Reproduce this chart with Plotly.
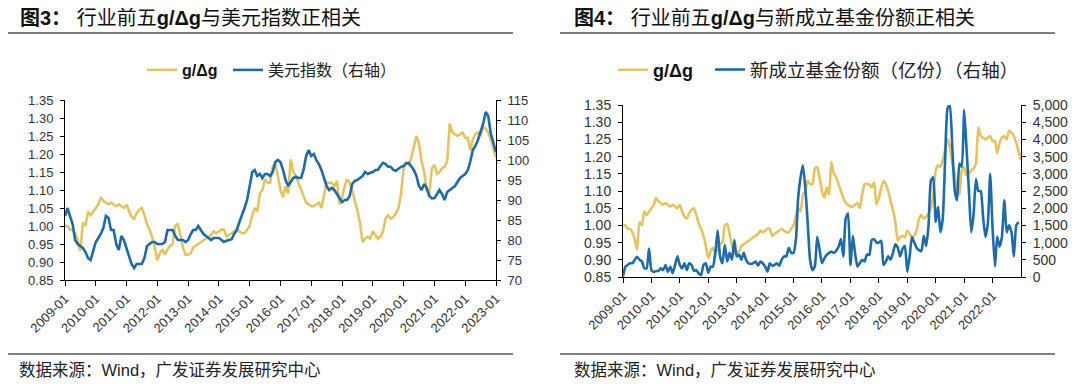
import pandas as pd
import plotly.graph_objects as go

# Page body has an 8px default margin, so the figure is sized to fit the
# 1080x386 window and positions are given in window pixels minus that offset.
OFF = 8
W, H = 1080 - OFF, 386 - OFF

# ---------------- data (monthly) ----------------
# g/Δg of top-5 industries, 2009-01 .. 2023-01
g_dg = [
    1.00, 1.00, 0.99, 0.99, 0.98, 0.96, 0.93, 1.01, 1.00, 1.04, 1.03, 1.04,      # 2009
    1.05, 1.06, 1.08, 1.07, 1.065, 1.06, 1.065, 1.06, 1.055, 1.06, 1.055, 1.05,  # 2010
    1.06, 1.04, 1.025, 1.02, 1.035, 1.045, 1.05, 1.03, 1.005, 0.99, 0.97, 0.94,  # 2011
    0.905, 0.925, 0.935, 0.92, 0.935, 0.945, 0.95, 1.00, 1.005, 0.975, 0.94, 0.92,  # 2012
    0.92, 0.925, 0.94, 0.945, 0.95, 0.955, 0.96, 0.965, 0.97, 0.975, 0.985, 0.98,  # 2013
    0.985, 0.99, 0.99, 0.97, 0.975, 0.98, 0.985, 0.99, 0.985, 0.98, 0.98, 0.99,  # 2014
    1.00, 1.03, 1.05, 1.04, 1.09, 1.10, 1.13, 1.12, 1.12, 1.165, 1.17, 1.14,     # 2015
    1.10, 1.08, 1.11, 1.09, 1.185, 1.15, 1.14, 1.12, 1.10, 1.08, 1.065, 1.06,    # 2016
    1.055, 1.055, 1.06, 1.065, 1.05, 1.09, 1.12, 1.12, 1.12, 1.11, 1.125, 1.06,  # 2017
    1.08, 1.11, 1.13, 1.12, 1.10, 1.07, 1.045, 1.01, 0.955, 0.965, 0.97, 0.965,  # 2018
    0.985, 0.975, 0.965, 0.97, 0.985, 1.02, 1.03, 1.02, 1.025, 1.035, 1.05, 1.09,  # 2019
    1.16, 1.175, 1.17, 1.19, 1.22, 1.25, 1.23, 1.18, 1.15, 1.10, 1.09, 1.16,     # 2020
    1.17, 1.145, 1.15, 1.16, 1.165, 1.18, 1.285, 1.26, 1.255, 1.25, 1.255, 1.26,  # 2021
    1.245, 1.245, 1.21, 1.24, 1.255, 1.26, 1.25, 1.275, 1.27, 1.26, 1.24, 1.215,  # 2022
    1.19,                                                                         # 2023
]

# US dollar index, 2009-01 .. 2023-01
dxy = [
    86, 88, 86, 84, 80, 79, 78.5, 78, 77, 75.5, 75, 77.5,               # 2009
    79.5, 80.5, 81.5, 83, 86, 85.5, 82.5, 82.5, 79, 77.5, 81, 80,       # 2010
    78, 76, 74, 73, 74, 74, 74, 75.5, 78.5, 79, 79.5, 79.5,             # 2011
    79, 79, 79, 79.5, 82.5, 82.5, 82.5, 81, 80, 80, 80, 79.5,           # 2012
    80, 81.5, 82.5, 82.5, 83.5, 82.5, 81.5, 81, 80.5, 80, 80.5, 80.5,   # 2013
    80.5, 80, 79.5, 79.8, 80, 80.2, 81.5, 82.5, 84.5, 86, 88, 90,       # 2014
    94, 97, 97.5, 96, 96.5, 95.5, 96.5, 96.5, 96, 97, 99.5, 100,        # 2015
    99.5, 97.5, 95, 93.5, 94.5, 95.5, 95.8, 95.5, 95.5, 97.5, 101, 102.5,  # 2016
    101, 101.5, 100, 99, 97.5, 95.5, 93.5, 92.5, 93, 92.5, 91.5, 90.5,  # 2017
    89.5, 90, 90, 91, 94, 94.8, 95, 95.5, 96, 97, 96.5, 96.8,           # 2018
    97, 97.5, 97.5, 98.5, 99.3, 99, 98.3, 98.3, 97.5, 97.3, 97.9, 98.3,  # 2019
    98.5, 99.2, 99.3, 98.5, 97.5, 96, 93.5, 92.5, 94, 93, 91, 90.4,     # 2020
    90.5, 91.5, 92.5, 91.5, 90, 92, 92.5, 93, 93.5, 94.5, 95.5, 96,     # 2021
    96.5, 97.5, 99.5, 102.5, 103.5, 105, 107, 109, 112, 111, 106.5, 104.2,  # 2022
    102,                                                                # 2023
]

# New fund shares (100 million units), 2009-01 .. 2022-12
new_fund = [
    20, 300, 350, 400, 400, 500, 590, 500, 450, 260, 250, 830,            # 2009
    200, 150, 170, 180, 250, 200, 350, 150, 300, 110, 350, 600,           # 2010
    350, 250, 400, 200, 400, 350, 180, 200, 100, 60, 350, 400,            # 2011
    120, 300, 300, 700, 1350, 600, 400, 930, 450, 700, 500, 1075,         # 2012
    600, 650, 500, 700, 500, 400, 380, 400, 450, 330, 450, 400,           # 2013
    300, 160, 400, 330, 350, 400, 330, 500, 600, 600, 850, 700,           # 2014
    700, 1100, 2300, 2900, 3250, 2600, 1600, 500, 200, 300, 1170, 800,    # 2015
    400, 540, 640, 700, 740, 700, 760, 880, 1100, 600, 1700, 1850,        # 2016
    350, 1200, 700, 300, 400, 500, 450, 650, 650, 1075, 1100, 1000,       # 2017
    1000, 1050, 350, 450, 600, 500, 700, 950, 850, 600, 820, 900,         # 2018
    150, 600, 1165, 1000, 850, 780, 750, 1200, 900, 1500, 2800, 2900,     # 2019
    1600, 2040, 1300, 1700, 3400, 4900, 5000, 3800, 2520, 2230, 3300, 3200,  # 2020
    4850, 3700, 2600, 1300, 1800, 2850, 2500, 2500, 1750, 1165, 1550, 3000,  # 2021
    1400, 300, 1165, 880, 1165, 2230, 1300, 1500, 1300, 600, 1500, 1600,  # 2022
]

tick_left = ["2009-01", "2010-01", "2011-01", "2012-01", "2013-01", "2014-01",
             "2015-01", "2016-01", "2017-01", "2018-01", "2019-01", "2020-01",
             "2021-01", "2022-01", "2023-01"]
tick_right = tick_left[:-1]

title_left = "<b>图3：</b>\u00a0行业前五<b>g/Δg</b>与美元指数正相关"
title_right = "<b>图4：</b>\u00a0行业前五<b>g/Δg</b>与新成立基金份额正相关"
name_g = "<b>g/Δg</b>"
name_dxy = "美元指数（右轴）"
name_fund = "新成立基金份额（亿份）（右轴）"
source = "数据来源：Wind，广发证券发展研究中心"

months_g = pd.date_range("2009-01-01", periods=len(g_dg), freq="MS")
months_dxy = pd.date_range("2009-01-01", periods=len(dxy), freq="MS")
months_fund = pd.date_range("2009-01-01", periods=len(new_fund), freq="MS")

# ---------------- style ----------------
GOLD = "#E6C35C"
BLUE = "#1C6BAE"
LAT = "Liberation Sans, Arial, sans-serif"
CJK = "Liberation Sans, Noto Sans CJK SC, sans-serif"


def px(x):
    return (x - OFF) / W


def py(y):
    return 1 - (y - OFF) / H


fig = go.Figure()
fig.add_trace(go.Scatter(x=months_g, y=g_dg, xaxis="x", yaxis="y", mode="lines",
                         line=dict(color=GOLD, width=2.6), name=name_g, legend="legend"))
fig.add_trace(go.Scatter(x=months_dxy, y=dxy, xaxis="x", yaxis="y2", mode="lines",
                         line=dict(color=BLUE, width=2.6), name=name_dxy, legend="legend2"))
fig.add_trace(go.Scatter(x=months_g, y=g_dg, xaxis="x2", yaxis="y3", mode="lines",
                         line=dict(color=GOLD, width=2.6, shape="spline", smoothing=0.5),
                         name=name_g, legend="legend3"))
fig.add_trace(go.Scatter(x=months_fund, y=new_fund, xaxis="x2", yaxis="y4", mode="lines",
                         line=dict(color=BLUE, width=2.6, shape="spline", smoothing=0.5),
                         name=name_fund, legend="legend4"))

axis_common = dict(showline=True, linecolor="#000", linewidth=1, ticks="outside",
                   tickcolor="#000", tickwidth=1, showgrid=False, zeroline=False,
                   automargin=False)


def xax(domain, anchor, ticks, size):
    return dict(axis_common, domain=domain, anchor=anchor, type="date",
                range=["2009-01-01", "2023-01-01"], ticklen=5,
                tickvals=[t + "-01" for t in ticks], ticktext=ticks, tickangle=-45,
                tickfont=dict(family=LAT, size=size, color="#333"))


def yax(domain, anchor, rng, dtick, fmt, size, side="left", overlay=None):
    d = dict(axis_common, anchor=anchor, range=rng, dtick=dtick, tickformat=fmt,
             ticklen=4, side=side, ticklabelstandoff=4,
             tickfont=dict(family=LAT, size=size, color="#333"))
    if overlay:
        d["overlaying"] = overlay
    else:
        d["domain"] = domain
    return d


legend_common = dict(orientation="h", yanchor="middle", xanchor="left",
                     bgcolor="rgba(0,0,0,0)", borderwidth=0)

fig.update_layout(
    width=W, height=H, autosize=False,
    margin=dict(l=0, r=0, t=0, b=0, pad=0, autoexpand=False),
    paper_bgcolor="white", plot_bgcolor="white",
    xaxis=xax([px(65), px(496)], "y", tick_left, 13),
    yaxis=yax([py(280), py(100)], "x", [0.85, 1.35], 0.05, ".2f", 13),
    yaxis2=yax(None, "x", [70, 115], 5, "d", 13, side="right", overlay="y"),
    xaxis2=xax([px(623), px(1021)], "y3", tick_right, 13),
    yaxis3=yax([py(277), py(105)], "x2", [0.85, 1.35], 0.05, ".2f", 14),
    yaxis4=yax(None, "x2", [0, 5000], 500, ",d", 14, side="right", overlay="y3"),
    legend=dict(legend_common, x=px(142), y=py(70),
                font=dict(family=LAT, size=16, color="#111")),
    legend2=dict(legend_common, x=px(228), y=py(70),
                 font=dict(family=CJK, size=16, color="#222")),
    legend3=dict(legend_common, x=px(613), y=py(70),
                 font=dict(family=LAT, size=18, color="#111")),
    legend4=dict(legend_common, x=px(710), y=py(70),
                 font=dict(family=CJK, size=18.5, color="#222")),
    showlegend=True,
)

annotations = []
for x0, txt in [(18, title_left), (572, title_right)]:
    annotations.append(dict(x=px(x0), y=py(18), xref="paper", yref="paper",
                            xanchor="left", yanchor="middle", showarrow=False,
                            text=txt, font=dict(family=CJK, size=20, color="#111")))
for x0 in (17, 572):
    annotations.append(dict(x=px(x0), y=py(370), xref="paper", yref="paper",
                            xanchor="left", yanchor="middle", showarrow=False,
                            text=source, font=dict(family=CJK, size=16.5, color="#222")))
fig.update_layout(annotations=annotations)

shapes = []
for (a, b) in [(5, 513), (560, 1055)]:
    for yy in (33, 354):
        shapes.append(dict(type="line", xref="paper", yref="paper",
                           x0=px(a), x1=px(b), y0=py(yy), y1=py(yy),
                           line=dict(color="#7F7F7F", width=2)))
fig.update_layout(shapes=shapes)

fig.write_html("out.html")
